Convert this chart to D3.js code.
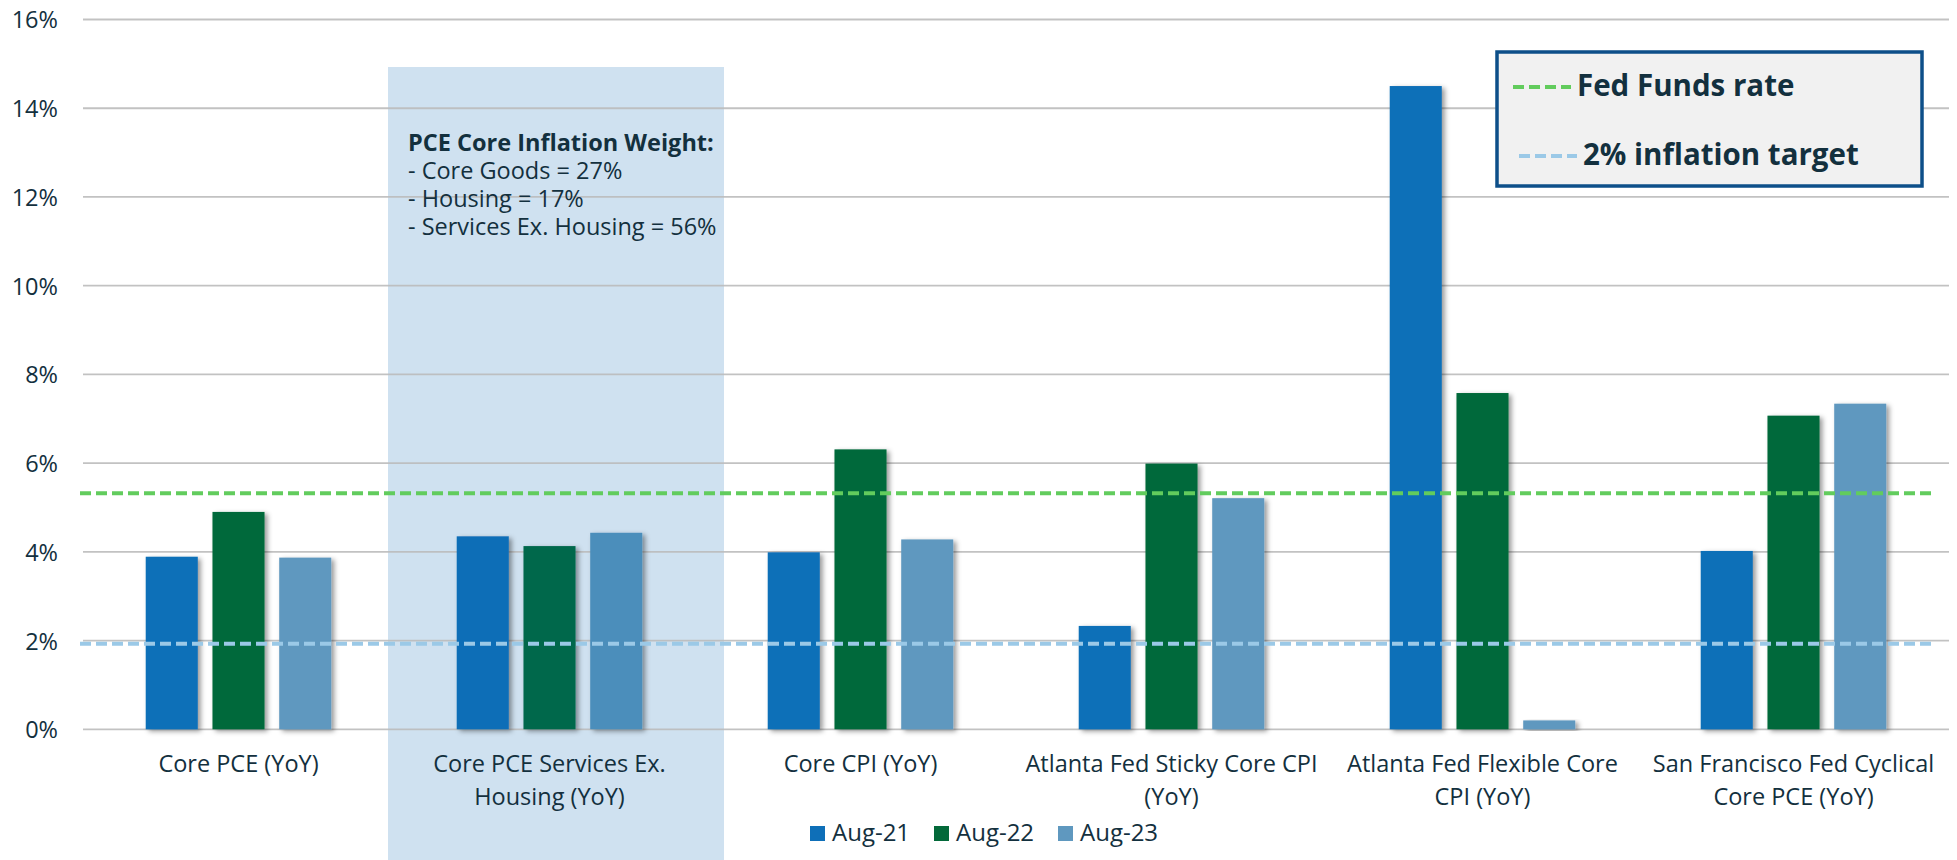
<!DOCTYPE html>
<html>
<head>
<meta charset="utf-8">
<script src="https://cdn.jsdelivr.net/npm/d3@7"></script>
<style>
    body { margin: 0; background: #fff; }
    svg { display: block; font-family: "Open Sans", sans-serif; }
</style>
</head>
<body>
<svg id="chart" width="1957" height="860"></svg>
<script>
let categories = [
    ["Core PCE (YoY)"],
    ["Core PCE Services Ex.", "Housing (YoY)"],
    ["Core CPI (YoY)"],
    ["Atlanta Fed Sticky Core CPI", "(YoY)"],
    ["Atlanta Fed Flexible Core", "CPI (YoY)"],
    ["San Francisco Fed Cyclical", "Core PCE (YoY)"]
];
let seriesNames = ["Aug-21", "Aug-22", "Aug-23"];
let aug21 = [3.89, 4.35, 3.99, 2.33, 14.5, 4.02];
let aug22 = [4.9, 4.13, 6.31, 5.99, 7.58, 7.07];
let aug23 = [3.87, 4.43, 4.28, 5.21, 0.2, 7.34];
let yTicks = [0, 2, 4, 6, 8, 10, 12, 14, 16];
let fedFundsRate = 5.32;
let inflationTarget = 1.93;
let annotationLines = ["PCE Core Inflation Weight:", "- Core Goods = 27%", "- Housing = 17%", "- Services Ex. Housing = 56%"];
let highlightIndex = 1;

let colors = ["#0e6fb8", "#03693a", "#5f98bf"];
let highlightColors = ["#0c6eb7", "#03684c", "#4b8ebb"];
let textColor = "#13303e";

let svg = d3.select("#chart");
let seriesValues = [aug21, aug22, aug23];
let catKeys = categories.map(c => c.join(" "));

let x0 = d3.scaleBand().domain(catKeys).range([83, 1949]).padding(0);
let x1 = d3.scaleBand().domain(seriesNames).range([0, x0.bandwidth()])
    .paddingInner(0.22).paddingOuter(0.94);
let y = d3.scaleLinear().domain([0, 16]).range([729.3, 19.5]);

let defs = svg.append("defs");
let shadow = defs.append("filter").attr("id", "shadow")
    .attr("x", "-20%").attr("y", "-5%").attr("width", "150%").attr("height", "115%");
shadow.append("feDropShadow").attr("dx", 3).attr("dy", 2)
    .attr("stdDeviation", 2.5).attr("flood-color", "#000").attr("flood-opacity", 0.4);

// highlighted category band
let hk = catKeys[highlightIndex];
svg.append("rect")
    .attr("x", x0(hk) - 6)
    .attr("y", 67)
    .attr("width", x0.bandwidth() + 25)
    .attr("height", 860 - 67)
    .attr("fill", "#cfe1f0");

// gridlines
svg.append("g").selectAll("line").data(yTicks).join("line")
    .attr("x1", 83).attr("x2", 1949)
    .attr("y1", d => y(d)).attr("y2", d => y(d))
    .attr("stroke", "#bcbcbc").attr("stroke-width", 1.8)
    .attr("opacity", 0.9);

// y axis labels
let yAxis = svg.append("g").attr("transform", "translate(58,0)")
    .call(d3.axisLeft(y).tickValues(yTicks).tickSize(0).tickPadding(0).tickFormat(d => d + "%"));
yAxis.select(".domain").remove();
yAxis.selectAll("text")
    .attr("font-family", "'Open Sans', sans-serif")
    .attr("font-size", 23.5).attr("fill", textColor).attr("dy", "0.36em");

// bars
let groups = svg.append("g").selectAll("g").data(catKeys).join("g")
    .attr("transform", d => "translate(" + x0(d) + ",0)");

groups.selectAll("rect")
    .data((d, i) => seriesNames.map((s, j) => ({ cat: i, series: s, j: j, value: seriesValues[j][i] })))
    .join("rect")
    .attr("x", d => x1(d.series))
    .attr("y", d => y(d.value))
    .attr("width", x1.bandwidth())
    .attr("height", d => y(0) - y(d.value))
    .attr("fill", d => d.cat === highlightIndex ? highlightColors[d.j] : colors[d.j])
    .attr("filter", "url(#shadow)");

// reference lines
svg.append("line")
    .attr("x1", 80).attr("x2", 1932)
    .attr("y1", y(fedFundsRate)).attr("y2", y(fedFundsRate))
    .attr("stroke", "#62cc5d").attr("stroke-width", 4)
    .attr("stroke-dasharray", "11,5");

svg.append("line")
    .attr("x1", 80).attr("x2", 1932)
    .attr("y1", y(inflationTarget)).attr("y2", y(inflationTarget))
    .attr("stroke", "#9bc9e7").attr("stroke-width", 4)
    .attr("stroke-dasharray", "11,5");

// category labels
let catLabels = svg.append("g").selectAll("text").data(categories).join("text")
    .attr("x", (d, i) => x0(catKeys[i]) + x0.bandwidth() / 2)
    .attr("y", 772)
    .attr("text-anchor", "middle")
    .attr("font-size", 23.5)
    .attr("fill", textColor);

catLabels.selectAll("tspan").data(d => d).join("tspan")
    .attr("x", function () { return d3.select(this.parentNode).attr("x"); })
    .attr("dy", (d, i) => i === 0 ? 0 : 33)
    .text(d => d);

// annotation in highlighted band
let note = svg.append("text")
    .attr("x", 408).attr("y", 151)
    .attr("font-size", 23.5).attr("fill", textColor);
note.selectAll("tspan").data(annotationLines).join("tspan")
    .attr("x", 408)
    .attr("dy", (d, i) => i === 0 ? 0 : 28)
    .attr("font-weight", (d, i) => i === 0 ? "bold" : "normal")
    .text(d => d);

// reference line legend
let legendBox = svg.append("g");
legendBox.append("rect")
    .attr("x", 1497).attr("y", 52)
    .attr("width", 425).attr("height", 134)
    .attr("fill", "#f1f1f1")
    .attr("stroke", "#0d4f89").attr("stroke-width", 3.5);

let refItems = [
    { label: "Fed Funds rate", color: "#62cc5d", x: 1513, y: 87 },
    { label: "2% inflation target", color: "#9bc9e7", x: 1519, y: 156 }
];
refItems.forEach(function (item) {
    legendBox.append("line")
        .attr("x1", item.x).attr("x2", item.x + 58)
        .attr("y1", item.y).attr("y2", item.y)
        .attr("stroke", item.color).attr("stroke-width", 4)
        .attr("stroke-dasharray", "11,5");
    legendBox.append("text")
        .attr("x", item.x + 64).attr("y", item.y + 9)
        .attr("font-size", 29.5).attr("font-weight", "bold")
        .attr("fill", textColor)
        .text(item.label);
});

// series legend
let legendX = [810, 934, 1058];
let seriesLegend = svg.append("g").selectAll("g").data(seriesNames).join("g")
    .attr("transform", (d, i) => "translate(" + legendX[i] + ",826)");
seriesLegend.append("rect")
    .attr("width", 15).attr("height", 15)
    .attr("fill", (d, i) => colors[i]);
seriesLegend.append("text")
    .attr("x", 22).attr("y", 14.5)
    .attr("font-size", 24).attr("fill", textColor)
    .text(d => d);
</script>
</body>
</html>
